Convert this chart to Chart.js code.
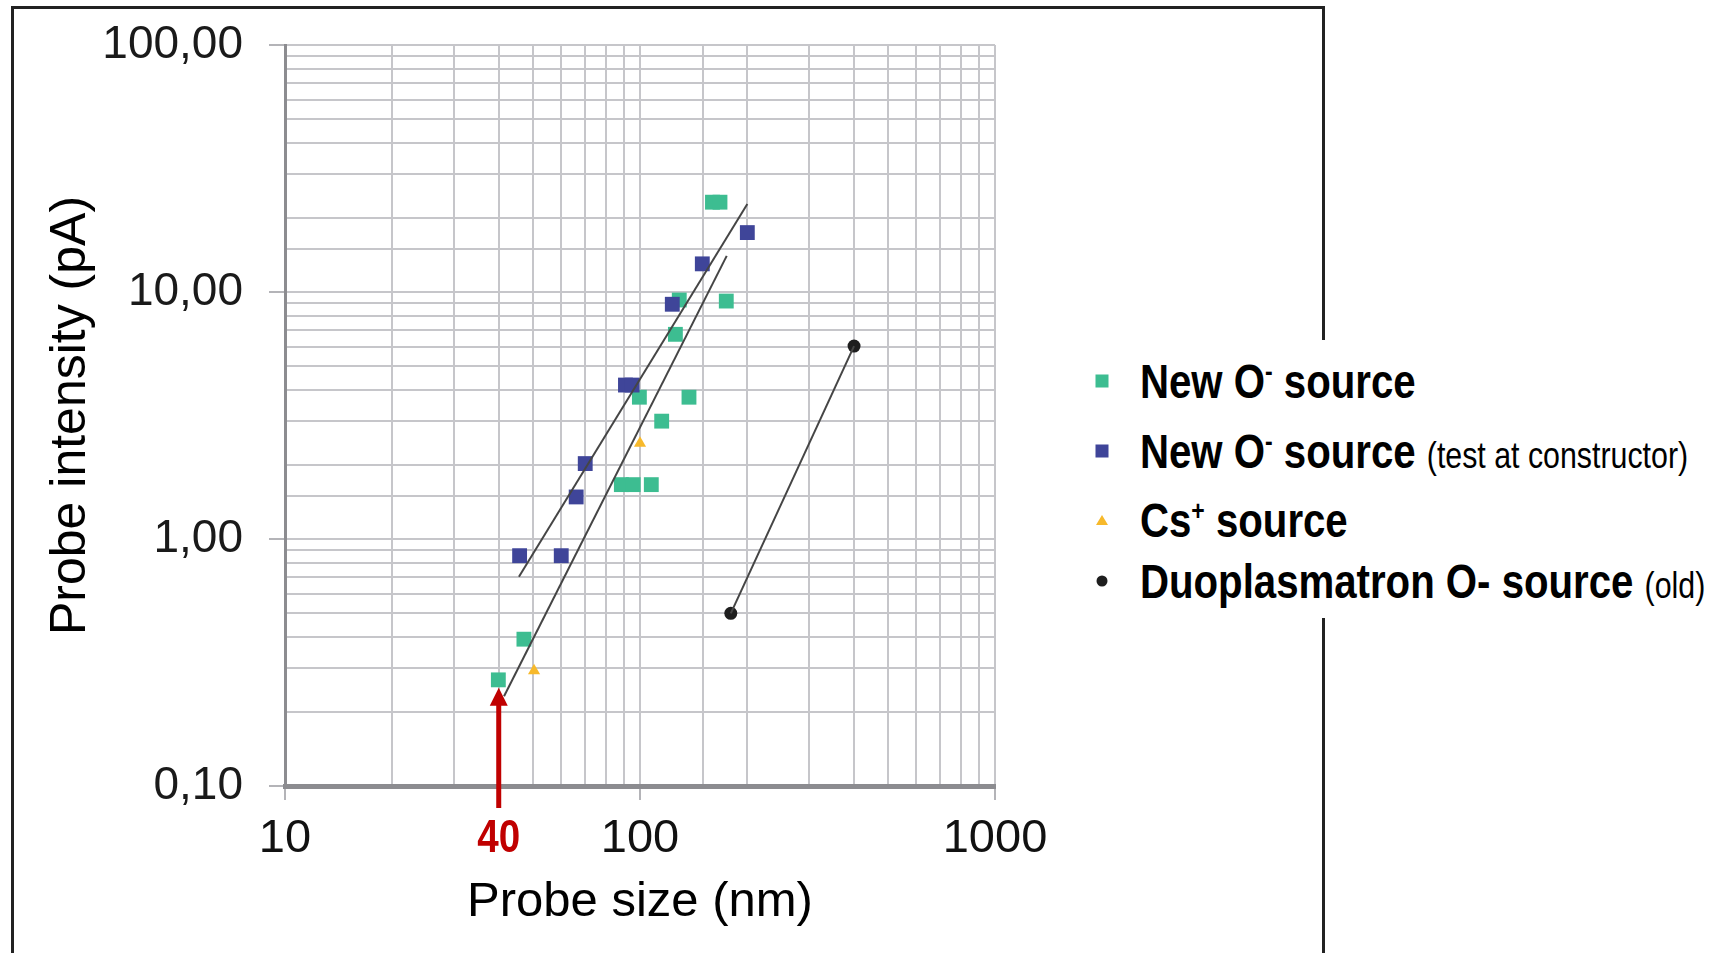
<!DOCTYPE html>
<html>
<head>
<meta charset="utf-8">
<script src="https://cdn.jsdelivr.net/npm/chart.js@4.4.1/dist/chart.umd.min.js"></script>
<style>
  body { margin: 0; background: #fff; width: 1719px; height: 953px; overflow: hidden; position: relative; font-family: "Liberation Sans", Arial, sans-serif; }
  #frame { position: absolute; left: 11px; top: 6px; width: 1308px; height: 1000px; border: 3px solid #222; border-bottom: none; }
  #wrap { position: absolute; left: 0; top: 0; width: 1060px; height: 953px; }
  #legend { position: absolute; left: 1080px; top: 340px; width: 639px; height: 278px; background: #fff; }
  .row { position: absolute; left: 0; height: 60px; width: 639px; }
  .mark { position: absolute; left: 22px; top: 30px; transform: translate(-50%, -50%); }
  .sq { width: 13px; height: 13px; }
  .tri { width: 0; height: 0; border-left: 6px solid transparent; border-right: 6px solid transparent; border-bottom: 10px solid #f7b92b; }
  .dot { width: 11px; height: 11px; border-radius: 50%; background: #1e1e1e; }
  .lab { position: absolute; left: 60px; top: 0; line-height: 60px; font-weight: bold; font-size: 49px; color: #000; white-space: nowrap; transform: scaleX(0.82); transform-origin: 0 50%; }
  .lab small { font-weight: normal; font-size: 37px; }
  .lab sup { font-size: 28px; line-height: 0; vertical-align: 0.6em; }
</style>
</head>
<body>
<div id="frame"></div>
<div id="wrap"><canvas id="chart"></canvas></div>
<div id="legend">
  <div class="row" style="top:11px"><div class="mark sq" style="background:#3dbd91"></div><div class="lab">New O<sup>-</sup> source</div></div>
  <div class="row" style="top:81px"><div class="mark sq" style="background:#3f4599"></div><div class="lab">New O<sup>-</sup> source <small>(test at constructor)</small></div></div>
  <div class="row" style="top:150px"><div class="mark tri"></div><div class="lab">Cs<sup>+</sup> source</div></div>
  <div class="row" style="top:211px"><div class="mark dot"></div><div class="lab">Duoplasmatron O- source <small>(old)</small></div></div>
</div>
<script>
// New O- source
const greenX = [160, 168, 129, 175, 125.8, 99.6, 137.4, 115.1, 88.6, 95.7, 107.6, 47.1, 39.9];
const greenY = [23.1, 23.1, 9.28, 9.19, 6.74, 3.75, 3.75, 3.0, 1.66, 1.66, 1.66, 0.393, 0.269];
// New O- source (test at constructor)
const blueX = [123.3, 200.6, 149.8, 91, 95, 70.1, 66.1, 45.8, 60.0];
const blueY = [8.92, 17.4, 13.0, 4.2, 4.2, 2.02, 1.48, 0.856, 0.856];
// Cs+ source
const csX = [100, 50.3];
const csY = [2.44, 0.293];
// Duoplasmatron (old)
const duoX = [180.2, 400.8];
const duoY = [0.5, 6.04];

// trend lines
const blueFitX = [45.6, 200.6];
const blueFitY = [0.704, 22.7];
const greenFitX = [41.4, 175.5];
const greenFitY = [0.231, 14.0];

const xTickValues = [10, 100, 1000];
const xTickLabels = ["10", "100", "1000"];
const yTickValues = [0.1, 1, 10, 100];
const yTickLabels = ["0,10", "1,00", "10,00", "100,00"];

// red arrow at 40 nm
const arrowAtSize = 40;
const arrowTipIntensity = 0.25;
const arrowLabel = "40";

const toPoints = (xs, ys) => xs.map((x, i) => ({ x: x, y: ys[i] }));
const labelFor = (v, vals, labels) => {
    const i = vals.findIndex(t => Math.abs(v - t) < t * 1e-6);
    return i >= 0 ? labels[i] : "";
};

const arrowPlugin = {
    id: "arrow40",
    afterDraw(chart) {
        const { ctx, chartArea } = chart;
        const px = chart.scales.x.getPixelForValue(arrowAtSize);
        const tip = chart.scales.y.getPixelForValue(arrowTipIntensity);
        ctx.save();
        ctx.strokeStyle = "#c00000";
        ctx.fillStyle = "#c00000";
        ctx.lineWidth = 5;
        ctx.beginPath();
        ctx.moveTo(px, chartArea.bottom + 22);
        ctx.lineTo(px, tip + 14);
        ctx.stroke();
        ctx.beginPath();
        ctx.moveTo(px, tip);
        ctx.lineTo(px - 9, tip + 18);
        ctx.lineTo(px + 9, tip + 18);
        ctx.closePath();
        ctx.fill();
        // condensed bold label
        ctx.translate(px, chartArea.bottom + 66);
        ctx.scale(0.82, 1);
        ctx.font = "bold 47px 'Liberation Sans', Arial, sans-serif";
        ctx.textAlign = "center";
        ctx.textBaseline = "alphabetic";
        ctx.fillText(arrowLabel, 0, 0);
        ctx.restore();
    }
};

const tickCol = c => (c.tick && c.tick.major) ? "#b4b4b8" : "rgba(0,0,0,0)";

new Chart(document.getElementById("chart"), {
    type: "scatter",
    data: {
        datasets: [
            { label: "fit1", data: toPoints(blueFitX, blueFitY), showLine: true, pointRadius: 0, pointHoverRadius: 0, borderColor: "#454545", borderWidth: 2, order: 0 },
            { label: "fit2", data: toPoints(greenFitX, greenFitY), showLine: true, pointRadius: 0, pointHoverRadius: 0, borderColor: "#454545", borderWidth: 2, order: 0 },
            { label: "fit3", data: toPoints(duoX, duoY), showLine: true, pointRadius: 0, pointHoverRadius: 0, borderColor: "#454545", borderWidth: 2, order: 0 },
            { label: "Duoplasmatron O- source (old)", data: toPoints(duoX, duoY), pointStyle: "circle", pointRadius: 6.5, backgroundColor: "#1e1e1e", borderColor: "#1e1e1e", pointBorderWidth: 0, order: 1 },
            { label: "New O- source (test at constructor)", data: toPoints(blueX, blueY), pointStyle: "rect", pointRadius: 10.5, backgroundColor: "#3f4599", borderColor: "#3f4599", pointBorderWidth: 0, order: 2 },
            { label: "Cs+ source", data: toPoints(csX, csY), pointStyle: "triangle", pointRadius: 7, backgroundColor: "#f7b92b", borderColor: "#f7b92b", pointBorderWidth: 0, order: 2 },
            { label: "New O- source", data: toPoints(greenX, greenY), pointStyle: "rect", pointRadius: 10.5, backgroundColor: "#3dbd91", borderColor: "#3dbd91", pointBorderWidth: 0, order: 3 }
        ]
    },
    options: {
        responsive: true,
        maintainAspectRatio: false,
        animation: false,
        layout: { padding: { top: 45, right: 65, bottom: 0, left: 0 } },
        plugins: { legend: { display: false }, tooltip: { enabled: false } },
        scales: {
            x: {
                type: "logarithmic", min: 10, max: 1000,
                afterFit(scale) { scale.height = 167; scale.paddingLeft = 0; scale.paddingRight = 0; },
                border: { color: "#8c8c90", width: 5 },
                grid: { color: "#c6c6ca", lineWidth: 2, tickLength: 14, tickWidth: 2, tickColor: tickCol },
                ticks: {
                    autoSkip: false, maxRotation: 0, padding: 11, color: "#111",
                    font: { size: 47 },
                    callback: v => labelFor(v, xTickValues, xTickLabels)
                },
                title: { display: true, text: "Probe size (nm)", color: "#000", font: { size: 49 }, padding: { top: 0, bottom: 21 } }
            },
            y: {
                type: "logarithmic", min: 0.1, max: 100,
                afterFit(scale) { scale.width = 285; scale.paddingTop = 0; scale.paddingBottom = 0; },
                border: { color: "#8c8c90", width: 3 },
                grid: { color: "#c6c6ca", lineWidth: 2, tickLength: 16, tickWidth: 2, tickColor: tickCol },
                ticks: {
                    autoSkip: false, padding: 26, color: "#1a1a1a",
                    font: { size: 46 },
                    callback: v => labelFor(v, yTickValues, yTickLabels)
                },
                title: { display: true, text: "Probe intensity (pA)", color: "#000", font: { size: 50 }, padding: { top: 41, bottom: 0 } }
            }
        }
    },
    plugins: [arrowPlugin]
});
</script>
</body>
</html>
